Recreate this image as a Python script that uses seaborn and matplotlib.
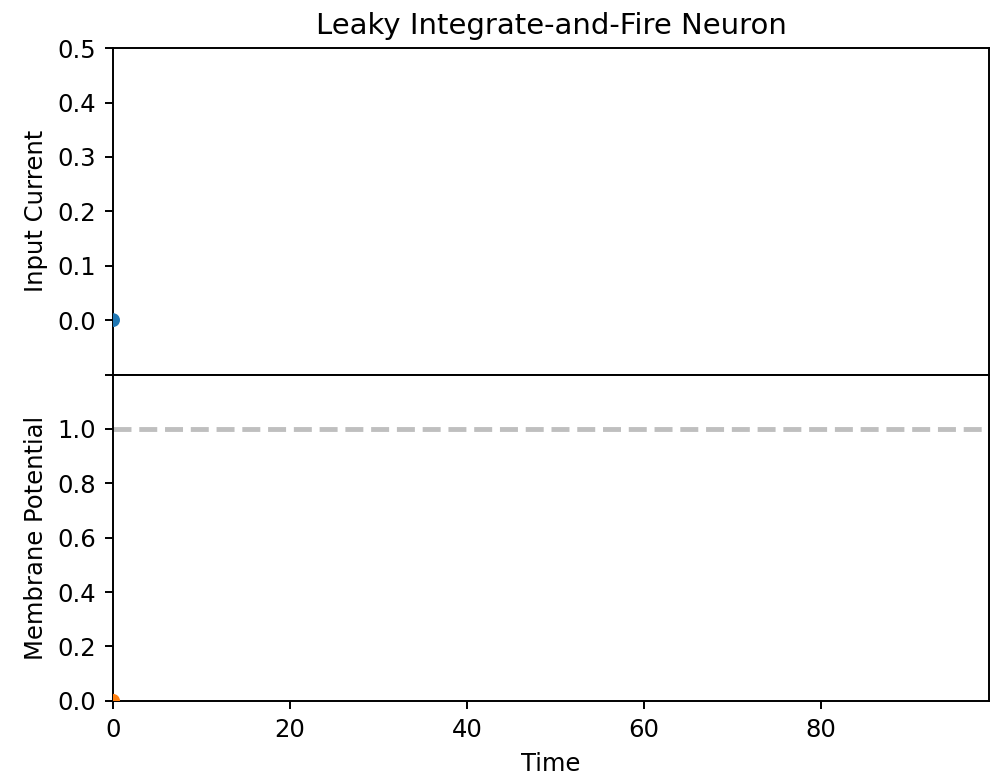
import matplotlib
matplotlib.use("Agg")
import matplotlib.pyplot as plt
import seaborn as sns
import pandas as pd

time = [0]
input_current = [0.0]
membrane_potential = [0.0]
threshold = 1.0
x_max = 99

plt.rcParams['font.family'] = ['DejaVu Sans']

fig, (ax1, ax2) = plt.subplots(2, 1, sharex=True, figsize=(9.96, 7.77), dpi=100)
fig.subplots_adjust(left=0.1135, right=0.993, top=0.938, bottom=0.098, hspace=0)

df = pd.DataFrame({"Time": time, "Current": input_current, "Potential": membrane_potential})

sns.scatterplot(data=df, x="Time", y="Current", ax=ax1, color="#1f77b4", s=100, edgecolor="none", zorder=3)
sns.scatterplot(data=df, x="Time", y="Potential", ax=ax2, color="#ff7f0e", s=100, edgecolor="none", zorder=3)
ax2.axhline(threshold, color="gray", linestyle="--", linewidth=3.5, alpha=0.5)

ax1.set_ylim(-0.1, 0.5)
ax1.set_yticks([-0.1, 0.0, 0.1, 0.2, 0.3, 0.4, 0.5])
ax1.set_yticklabels(["", "0.0", "0.1", "0.2", "0.3", "0.4", "0.5"])
ax2.set_ylim(0, 1.2)
ax2.set_yticks([0.0, 0.2, 0.4, 0.6, 0.8, 1.0])
ax1.set_xlim(0, x_max)
ax2.set_xticks([0, 20, 40, 60, 80])

ax1.set_ylabel("Input Current", fontsize=17.5, labelpad=7)
ax2.set_ylabel("Membrane Potential", fontsize=17.5, labelpad=7)
ax2.set_xlabel("Time", fontsize=17.5, labelpad=7)
ax1.set_xlabel("")
ax1.set_title("Leaky Integrate-and-Fire Neuron", fontsize=21, pad=10.5)
for ax in (ax1, ax2):
    ax.tick_params(labelsize=17.5, length=6.1, width=1.4, pad=6.1)
    for s in ax.spines.values():
        s.set_linewidth(1.4)
ax1.tick_params(axis="x", length=0)

fig.savefig("out.png", dpi=100)
